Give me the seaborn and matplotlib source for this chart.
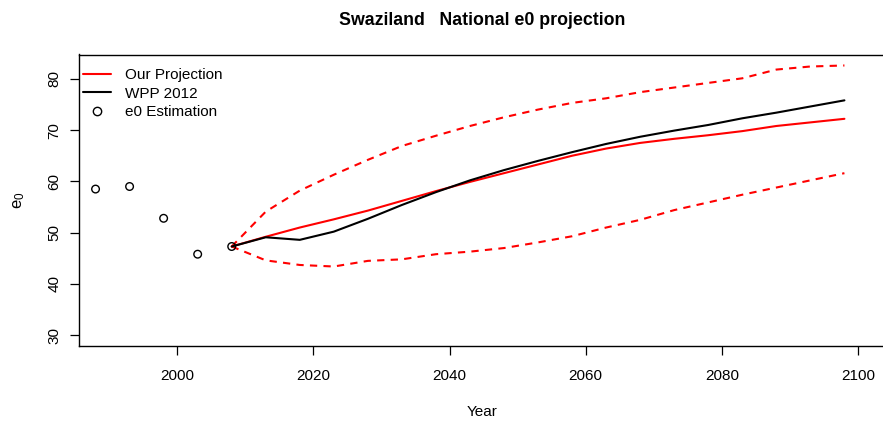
import numpy as np
import pandas as pd
import seaborn as sns
from matplotlib import pyplot as plt
from matplotlib.lines import Line2D

# ---- data ----
est_years = [1988, 1993, 1998, 2003, 2008]
est_e0 = [58.5, 59.0, 52.8, 45.8, 47.3]

proj_years = [2008, 2013, 2018, 2023, 2028, 2033, 2038, 2043, 2048, 2053,
              2058, 2063, 2068, 2073, 2078, 2083, 2088, 2093, 2098]
our_median = [47.3, 49.2, 51.0, 52.6, 54.3, 56.2, 58.1, 59.9, 61.6, 63.3,
              65.0, 66.4, 67.5, 68.3, 69.0, 69.8, 70.8, 71.5, 72.2]
our_upper = [47.3, 54.1, 58.2, 61.3, 64.2, 66.9, 68.9, 70.8, 72.5, 74.0,
             75.3, 76.2, 77.4, 78.3, 79.2, 80.1, 81.8, 82.4, 82.6]
our_lower = [47.3, 44.6, 43.7, 43.4, 44.5, 44.8, 45.8, 46.3, 47.0, 48.1,
             49.3, 51.0, 52.5, 54.4, 55.9, 57.4, 58.8, 60.2, 61.6]
wpp2012 = [47.3, 49.1, 48.6, 50.2, 52.7, 55.4, 57.9, 60.2, 62.2, 64.0,
           65.7, 67.3, 68.7, 69.9, 71.0, 72.3, 73.4, 74.6, 75.8]

x_ticks = [2000, 2020, 2040, 2060, 2080, 2100]
y_ticks = [30, 40, 50, 60, 70, 80]

proj = pd.DataFrame({'Year': proj_years, 'median': our_median,
                     'upper': our_upper, 'lower': our_lower, 'wpp': wpp2012})
est = pd.DataFrame({'Year': est_years, 'e0': est_e0})

sns.set_style("ticks")
plt.rcParams['font.family'] = ['Liberation Sans', 'DejaVu Sans']
plt.rcParams['mathtext.fontset'] = 'custom'
plt.rcParams['mathtext.rm'] = 'Liberation Sans'
plt.rcParams['mathtext.it'] = 'Liberation Sans'
for key in ['text.color', 'axes.labelcolor', 'xtick.color', 'ytick.color']:
    plt.rcParams[key] = 'black'

fig = plt.figure(figsize=(8.83, 4.22), dpi=100)
ax = fig.add_axes([79 / 883, 76 / 422, 806 / 883, 291.5 / 422])

dash = (3.5, 3.0)
sns.lineplot(data=proj, x='Year', y='upper', color='red', lw=1.5, ax=ax,
             dashes=False).lines[-1].set_dashes(dash)
sns.lineplot(data=proj, x='Year', y='lower', color='red', lw=1.5, ax=ax,
             dashes=False).lines[-1].set_dashes(dash)
sns.lineplot(data=proj, x='Year', y='median', color='red', lw=1.5, ax=ax)
sns.lineplot(data=proj, x='Year', y='wpp', color='black', lw=1.5, ax=ax)
sns.scatterplot(data=est, x='Year', y='e0', ax=ax, s=30, marker='o',
                facecolor='none', edgecolor='black', linewidth=1.0, zorder=5)

ax.set_xlim(1985.57, 2103.96)
ax.set_ylim(27.9, 84.74)
ax.set_xticks(x_ticks)
ax.set_yticks(y_ticks)
ax.tick_params(axis='both', labelsize=11, length=6.5, width=0.9,
               color='black', labelcolor='black')
ax.tick_params(axis='x', pad=10)
ax.tick_params(axis='y', pad=6)
for lab in ax.get_yticklabels():
    lab.set_rotation(90)
    lab.set_va('center')
for sp in ax.spines.values():
    sp.set_visible(True)
    sp.set_color('black')
    sp.set_linewidth(1.0)

ax.set_xlabel('Year', fontsize=11, labelpad=16, color='black')
ax.set_ylabel('e$_0$', fontsize=12, labelpad=15, color='black')
ax.set_title('Swaziland   National e0 projection', fontsize=12.8,
             fontweight='bold', pad=21, color='black')

handles = [Line2D([], [], color='red', lw=1.5),
           Line2D([], [], color='black', lw=1.5),
           Line2D([], [], color='black', lw=0, marker='o', markersize=6,
                  markerfacecolor='none', markeredgewidth=1.0)]
leg = ax.legend(handles, ['Our Projection', 'WPP 2012', 'e0 Estimation'],
                loc='upper left', bbox_to_anchor=(0.005, 0.953), frameon=False,
                fontsize=11, handlelength=1.83, handletextpad=0.92,
                labelspacing=0.3, borderaxespad=0, borderpad=0)
for t in leg.get_texts():
    t.set_color('black')

fig.savefig('out.png', dpi=100)
